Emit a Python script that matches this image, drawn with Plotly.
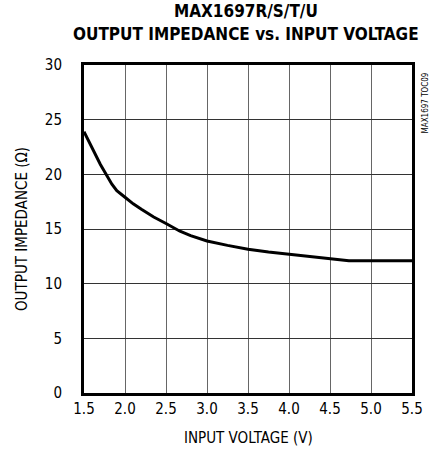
import plotly.graph_objects as go

voltage = [1.5, 1.6, 1.7, 1.84, 1.9, 2.0, 2.1, 2.2, 2.35, 2.5, 2.67, 2.8, 3.0, 3.25, 3.5, 3.75, 4.0, 4.25, 4.5, 4.73, 5.0, 5.5]
impedance = [23.9, 22.4, 20.9, 19.1, 18.5, 17.9, 17.3, 16.8, 16.1, 15.5, 14.8, 14.4, 13.9, 13.5, 13.15, 12.9, 12.7, 12.5, 12.3, 12.1, 12.1, 12.1]

x_ticks = [1.5, 2.0, 2.5, 3.0, 3.5, 4.0, 4.5, 5.0, 5.5]
x_tick_labels = ["1.5", "2.0", "2.5", "3.0", "3.5", "4.0", "4.5", "5.0", "5.5"]
y_ticks = [0, 5, 10, 15, 20, 25, 30]

COND = "DejaVu Sans Condensed, Liberation Sans Narrow, sans-serif"

fig = go.Figure()
fig.add_trace(go.Scatter(
    x=voltage, y=impedance, mode="lines",
    line=dict(color="black", width=3),
    hoverinfo="skip", showlegend=False,
))

fig.update_layout(
    width=435, height=454,
    margin=dict(l=84, r=23, t=65, b=61, autoexpand=False),
    paper_bgcolor="white", plot_bgcolor="white",
    xaxis=dict(
        range=[1.5, 5.5], tickvals=x_ticks, ticktext=x_tick_labels,
        showgrid=True, gridcolor="#666", gridwidth=1,
        showline=True, linecolor="black", linewidth=3, mirror=True,
        ticks="", zeroline=False, automargin=False,
        tickfont=dict(family=COND, size=15, color="black"),
    ),
    yaxis=dict(
        range=[0, 30], tickvals=y_ticks,
        showgrid=True, gridcolor="#333", gridwidth=1,
        showline=True, linecolor="black", linewidth=3, mirror=True,
        ticks="", zeroline=False, ticklabelstandoff=16, automargin=False,
        tickfont=dict(family=COND, size=15, color="black"),
    ),
)

fig.add_annotation(
    text="<b>MAX1697R/S/T/U</b>", xref="paper", yref="paper", x=0.5, y=1.0,
    xanchor="center", yanchor="middle", yshift=54, xshift=-2, showarrow=False,
    font=dict(family=COND, size=17, color="black"),
)
fig.add_annotation(
    text="<b>OUTPUT IMPEDANCE vs. INPUT VOLTAGE</b>", xref="paper", yref="paper", x=0.5, y=1.0,
    xanchor="center", yanchor="middle", yshift=31, xshift=-2, showarrow=False,
    font=dict(family=COND, size=17, color="black"),
)
fig.add_annotation(
    text="INPUT VOLTAGE (V)", xref="paper", yref="paper", x=0.5, y=0.0,
    xanchor="center", yanchor="middle", yshift=-45, showarrow=False,
    font=dict(family=COND, size=15, color="black"),
)
fig.add_annotation(
    text="OUTPUT IMPEDANCE (Ω)", xref="paper", yref="paper", x=0.0, y=0.5,
    xanchor="center", yanchor="middle", xshift=-62, textangle=-90, showarrow=False,
    font=dict(family=COND, size=15, color="black"),
)
fig.add_annotation(
    text="MAX1697 TOC09", xref="paper", yref="paper", x=1.0, y=1.0,
    xanchor="center", yanchor="top", xshift=13, yshift=-6, textangle=-90, showarrow=False,
    font=dict(family=COND, size=8, color="black"),
)

fig.write_html("out.html", config={"displayModeBar": False},
               post_script="document.body.style.margin='0';document.body.style.overflow='hidden';")
